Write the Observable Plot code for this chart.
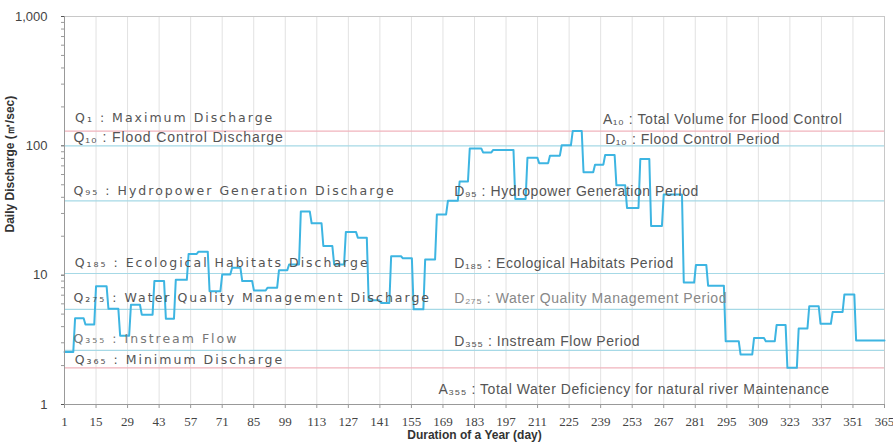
<!DOCTYPE html>
<html><head><meta charset="utf-8">
<script src="https://cdn.jsdelivr.net/npm/d3@7"></script>
<script src="https://cdn.jsdelivr.net/npm/@observablehq/plot@0.6"></script>
<style>
body{margin:0;background:#fff;}
g[font-family^="DejaVu"]{letter-spacing:2.0px;}
g[font-family="Liberation Sans"]{letter-spacing:0.55px;}
g[font-family="Arial"]{letter-spacing:0.9px;}
</style></head><body><div id="chart"></div>
<script>
// Daily discharge as a step series: the day each step starts and its discharge (m3/s)
const stepStartDay = [1,5.7,10.3,15.0,20.5,25.7,30.5,35.3,40.9,46.0,50.4,56.1,60.5,65.4,71.0,75.4,79.9,85.1,91.1,96.2,100.7,105.9,110.7,115.9,120.7,125.9,131.2,136.0,141.5,146.0,151.2,156.0,161.1,166.3,171.2,176.4,180.9,186.8,191.3,201.1,206.5,211.7,216.5,221.7,226.6,231.4,236.5,241.0,246.0,250.7,256.6,261.4,267.0,275.9,281.3,286.7,294.5,301.1,307.1,312.3,317.1,321.9,326.9,331.6,336.6,342.0,347.2,352.4];
const stepDischarge = [2.55,4.64,4.15,8.2,5.5,3.4,5.9,4.95,9.0,4.6,9.2,14.6,15.2,7.5,10.1,11.4,9.0,7.6,8.0,10.9,12.1,31.0,25.2,16.8,12.1,21.6,19.5,6.4,6.1,14.0,13.5,5.44,13.2,29.5,37.6,53,95.5,89,93,38.8,81,73.5,84,101,130,62.4,71.5,85,49.5,33.1,79,24.0,42,8.76,12,8.3,3.09,2.44,3.27,3.09,4.11,1.92,3.87,5.75,4.21,5.2,7.1,3.13];
const lastDay = 365;

// Reference discharges (horizontal lines)
const refNames = ["Q1","Q10","Q95","Q185","Q275","Q355","Q365"];
const refValues = [130,100,37.6,10.3,5.44,2.62,1.92];

// Annotation texts
const leftLabels = ["Q₁ : Maximum Discharge","Q₁₀ : Flood Control Discharge","Q₉₅ : Hydropower Generation Discharge","Q₁₈₅ : Ecological Habitats Discharge","Q₂₇₅ : Water Quality Management Discharge","Q₃₅₅ : Instream Flow","Q₃₆₅ : Minimum Discharge"];
const rightLabels = ["A₁₀ : Total Volume for Flood Control","D₁₀ : Flood Control Period","D₉₅ : Hydropower Generation Period","D₁₈₅ : Ecological Habitats Period","D₂₇₅ : Water Quality Management Period","D₃₅₅ : Instream Flow Period","A₃₅₅ : Total Water Deficiency for natural river Maintenance"];

const xTicks = d3.range(1, 366, 14);
const yTicks = [1, 10, 100, 1000];
const yLabel = "Daily Discharge (㎥/sec)";
const xLabel = "Duration of a Year (day)";

// ---- derived tables ----
const pts = [];
stepStartDay.forEach((d, i) => {
  const end = i < stepStartDay.length - 1 ? stepStartDay[i + 1] - 0.8 : lastDay;
  pts.push({day: d, q: stepDischarge[i]}, {day: end, q: stepDischarge[i]});
});
const refs = refNames.map((n, i) => ({name: n, q: refValues[i]}));
const minorTicks = [];
for (const p of [1, 10, 100]) for (let k = 2; k <= 9; k++) minorTicks.push(k * p);

// layout of annotations (anchor day, line index, pixel offset)
const leftLayout = [[5.7,0,-13],[5.0,1,-8],[5.0,2,-10],[5.5,3,-11],[5.0,4,-11.5],[5.0,5,-11],[5.5,6,-8]];
const rightLayout = [[240,0,-12],[241,1,-6],[174,2,-9],[174,3,-10],[174,4,-11],[174,5,-9],[167,6,22]];
const leftTab = leftLayout.map(([d, i, dy], k) => ({day: d, q: refValues[i], dy, text: leftLabels[k], k}));
const rightTab = rightLayout.map(([d, i, dy], k) => ({day: d, q: refValues[i], dy, text: rightLabels[k], k}));

const textMarks = [];
for (const d of leftTab) {
  if (d.k === 1) textMarks.push(Plot.text([d], {x: "day", y: "q", text: "text", dy: d.dy, textAnchor: "start", fontFamily: "Arial", fontSize: 14, fill: "#555"}));
  else textMarks.push(Plot.text([d], {x: "day", y: "q", text: "text", dy: d.dy, textAnchor: "start", fontFamily: "DejaVu Sans", fontSize: 12.5, fill: d.k === 5 ? "#777" : "#555"}));
}
for (const d of rightTab) textMarks.push(Plot.text([d], {x: "day", y: "q", text: "text", dy: d.dy, textAnchor: "start", fontFamily: "Liberation Sans", fontSize: 14, fill: d.k === 4 ? "#888" : "#555"}));

const chart = Plot.plot({
  width: 893, height: 444,
  marginLeft: 64, marginRight: 9, marginTop: 16, marginBottom: 40,
  style: {fontFamily: "Liberation Sans, Arial, sans-serif", fontSize: "12px", color: "#555", background: "#fff"},
  x: {domain: [1, 365]},
  y: {type: "log", domain: [1, 1000]},
  marks: [
    Plot.gridX(xTicks, {stroke: "#e2e2e2", strokeOpacity: 1}),
    Plot.frame({stroke: "#c8c8c8"}),
    Plot.ruleY(refs, {y: "q", stroke: d => (d.name === "Q1" || d.name === "Q365") ? "#f0b3bc" : "#a6d9e6", strokeWidth: 1.2}),
    Plot.line(pts, {x: "day", y: "q", stroke: "#3db5e2", strokeWidth: 2}),
    ...textMarks,
    Plot.axisY({ticks: minorTicks, tickFormat: () => "", tickSize: 3, stroke: "#999", label: null}),
    Plot.axisY({ticks: yTicks, tickFormat: d3.format(","), tickSize: 3, tickPadding: 14, label: null, fill: "#444", fontSize: 13}),
    Plot.ruleX([1], {stroke: "#999"}),
    Plot.axisX({ticks: xTicks, tickSize: 4, tickPadding: 8, label: null, fontFamily: "Liberation Sans Narrow", fontSize: 13, fill: "#444", stroke: "#999"}),
    Plot.ruleY([1], {stroke: "#999"}),
    Plot.text([xLabel], {frameAnchor: "bottom", dy: 34, fontWeight: "bold", fontSize: 12, fill: "#333"}),
    Plot.text([yLabel], {frameAnchor: "left", rotate: -90, dx: -54, dy: 22, fontWeight: "bold", fontSize: 12, fill: "#333"})
  ]
});
document.getElementById("chart").append(chart);
</script></body></html>
